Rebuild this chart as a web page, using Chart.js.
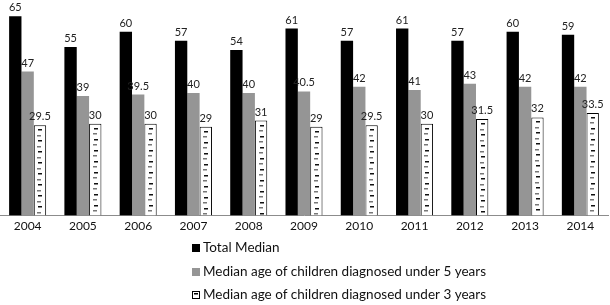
<!DOCTYPE html>
<html>
<head>
<meta charset="utf-8">
<script src="https://cdn.jsdelivr.net/npm/chart.js@4.4.1/dist/chart.umd.min.js"></script>
<style>
  html, body { margin: 0; padding: 0; background: #fff; }
  #wrap { width: 610px; height: 305px; position: relative; }
</style>
</head>
<body>
<div id="wrap"><canvas id="chart"></canvas></div>
<script>
// datos
const years = ['2004', '2005', '2006', '2007', '2008', '2009', '2010', '2011', '2012', '2013', '2014'];
const totalMedian = [65, 55, 60, 57, 54, 61, 57, 61, 57, 60, 59];
const under5 = [47, 39, 39.5, 40, 40, 40.5, 42, 41, 43, 42, 42];
const under3 = [29.5, 30, 30, 29, 31, 29, 29.5, 30, 31.5, 32, 33.5];
const seriesNames = [
    'Total Median',
    'Median age of children diagnosed under 5 years',
    'Median age of children diagnosed under 3 years'
];

const fontFam = 'Lato, "Liberation Sans", sans-serif';

// etiquetas de valor encima de cada barra + rayitas del patron
const barExtras = {
    id: 'barExtras',
    afterDatasetsDraw(chart) {
        const ctx = chart.ctx;
        // patron de rayas en la tercera serie
        const meta3 = chart.getDatasetMeta(2);
        ctx.save();
        meta3.data.forEach(bar => {
            const cx = bar.x;
            let row = 0;
            for (let y = bar.y + 4; y < bar.base - 2; y += 5.5) {
                const off = row % 2 === 0 ? 0.5 : -0.5;
                ctx.fillStyle = row % 2 === 0 ? '#111' : '#777';
                ctx.fillRect(Math.round(cx - 2 + off), Math.round(y), 4, 1.5);
                row++;
            }
        });
        ctx.restore();

        ctx.save();
        ctx.font = '11px ' + fontFam;
        ctx.fillStyle = '#222';
        ctx.textAlign = 'center';
        ctx.textBaseline = 'alphabetic';
        chart.data.datasets.forEach((ds, i) => {
            const meta = chart.getDatasetMeta(i);
            meta.data.forEach((bar, j) => {
                ctx.fillText(String(ds.data[j]), bar.x, bar.y - 5);
            });
        });
        ctx.restore();
    },
    afterDraw(chart) {
        // leyenda vertical debajo del eje
        const ctx = chart.ctx;
        const rowsY = [248, 272, 295];
        ctx.save();
        ctx.font = '13.5px ' + fontFam;
        ctx.textBaseline = 'middle';
        ctx.textAlign = 'left';
        seriesNames.forEach((name, i) => {
            const y = rowsY[i];
            if (i === 0) {
                ctx.fillStyle = '#000';
                ctx.fillRect(192, y - 4, 8, 8);
            } else if (i === 1) {
                ctx.fillStyle = '#959595';
                ctx.fillRect(192, y - 4, 8, 8);
            } else {
                ctx.fillStyle = '#fff';
                ctx.fillRect(192, y - 4, 8, 8);
                ctx.strokeStyle = '#000';
                ctx.lineWidth = 1;
                ctx.strokeRect(192.5, y - 3.5, 7, 7);
                ctx.fillStyle = '#000';
                ctx.fillRect(194, y - 2, 4, 1.5);
            }
            ctx.fillStyle = '#111';
            ctx.fillText(name, 203, y);
        });
        ctx.restore();
    }
};

const ctx = document.getElementById('chart').getContext('2d');
new Chart(ctx, {
    type: 'bar',
    data: {
        labels: years,
        datasets: [
            { label: seriesNames[0], data: totalMedian, backgroundColor: '#000000', borderWidth: 0 },
            { label: seriesNames[1], data: under5, backgroundColor: '#959595', borderWidth: 0 },
            { label: seriesNames[2], data: under3, backgroundColor: '#ffffff', borderColor: '#000000', borderWidth: 1 }
        ]
    },
    options: {
        responsive: true,
        maintainAspectRatio: false,
        animation: false,
        layout: { padding: { top: 1, right: 2, bottom: 69, left: 0 } },
        datasets: {
            bar: { categoryPercentage: 0.67, barPercentage: 1.0 }
        },
        plugins: {
            legend: { display: false },
            tooltip: { enabled: false }
        },
        scales: {
            x: {
                grid: { display: false, drawTicks: false },
                border: { display: true, color: '#8c8c8c', width: 1 },
                ticks: { color: '#111', padding: 3, font: { family: fontFam, size: 12 } }
            },
            y: {
                display: false,
                min: 0,
                max: 70
            }
        }
    },
    plugins: [barExtras]
});
</script>
</body>
</html>
